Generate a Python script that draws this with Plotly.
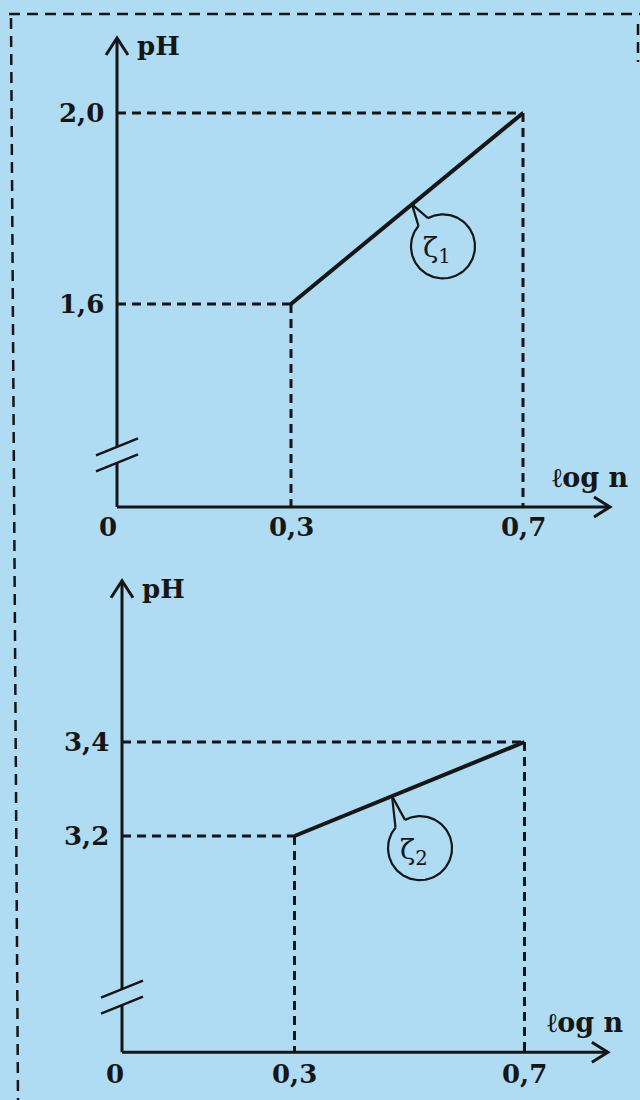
import numpy as np
import plotly.graph_objects as go

# values
logn = [0.3, 0.7]
ph_1 = [1.6, 2.0]
ph_2 = [3.2, 3.4]
x_ticks = [0, 0.3, 0.7]
x_tick_text = ["0", "0,3", "0,7"]
curve_labels = ["ζ<sub>1</sub>", "ζ<sub>2</sub>"]

W, H = 640, 1100
BG = "#afdbf3"
INK = "#161616"
BOLD = dict(family="DejaVu Serif", size=26, color=INK)

# pixel geometry of each panel (px = x0 + sx*x ; py = ref_px + (ref_v - v)*sy)
panels = [
    dict(ph=ph_1, label=curve_labels[0], xa="x", ya="y", dom=[0.5, 1.0], top_px=0,
         x0=117, sx=580, ref_v=2.0, ref_px=113, sy=477.5,
         y_lo=1.175, y_hi=2.157, brk=1.284, x_hi=0.85,
         stem_x=0.5086, bub=(31, 42), zero_shift=-9, tick_dy=-20, logn_x=0.8155, logn_dy=29),
    dict(ph=ph_2, label=curve_labels[1], xa="x2", ya="y2", dom=[0.0, 0.5], top_px=550,
         x0=122, sx=575, ref_v=3.4, ref_px=742, sy=470,
         y_lo=2.740, y_hi=3.743, brk=2.857, x_hi=0.845,
         stem_x=0.4696, bub=(28, 52), zero_shift=-7, tick_dy=-22, logn_x=0.805, logn_dy=30),
]

fig = go.Figure()
annotations = []


def line(p, xs, ys, width=3, dash=None):
    fig.add_trace(go.Scatter(x=xs, y=ys, mode="lines", xaxis=p["xa"], yaxis=p["ya"],
                             line=dict(color=INK, width=width, dash=dash),
                             hoverinfo="skip", showlegend=False))


for p in panels:
    sx, sy = p["sx"], p["sy"]
    ph = p["ph"]
    y0 = p["y_lo"]

    # dashed guides
    for xv, yv in zip(logn, ph):
        line(p, [0, xv], [yv, yv], width=3, dash="9px,6px")
        line(p, [xv, xv], [yv, y0], width=3, dash="9px,6px")

    # the curve
    line(p, logn, ph, width=4)

    # x axis + arrow
    line(p, [0, p["x_hi"]], [y0, y0], width=3)
    tip = p["x_hi"]
    line(p, [tip - 16 / sx, tip, tip - 16 / sx], [y0 + 10 / sy, y0, y0 - 10 / sy], width=3)

    # y axis with break + arrow
    gap = 8 / sy
    line(p, [0, 0], [y0, p["brk"] - gap], width=3)
    line(p, [0, 0], [p["brk"] + gap, p["y_hi"]], width=3)
    for c in (p["brk"] - gap, p["brk"] + gap):
        line(p, [-21 / sx, 21 / sx], [c - 8.5 / sy, c + 8.5 / sy], width=2.5)
    yt = p["y_hi"]
    line(p, [-11 / sx, 0, 11 / sx], [yt - 17 / sy, yt, yt - 17 / sy], width=3)

    # bubble label on the curve
    slope = (ph[1] - ph[0]) / (logn[1] - logn[0])
    stem = (p["stem_x"], ph[0] + slope * (p["stem_x"] - logn[0]))
    cx = stem[0] + p["bub"][0] / sx
    cy = stem[1] - p["bub"][1] / sy
    r = 32
    a = np.radians(np.linspace(140, 118 + 360, 120))
    line(p, cx + r * np.cos(a) / sx, cy + r * np.sin(a) / sy, width=2.2)
    for ang in (140, 118):
        t = np.radians(ang)
        line(p, [stem[0], cx + r * np.cos(t) / sx], [stem[1], cy + r * np.sin(t) / sy], width=2.2)
    annotations.append(dict(x=cx, y=cy, xref=p["xa"], yref=p["ya"], text=p["label"],
                            showarrow=False, xshift=-6, yshift=-3,
                            font=dict(family="DejaVu Serif", size=28, color=INK)))

    # text
    annotations.append(dict(x=0, y=yt, xref=p["xa"], yref=p["ya"], text="<b>pH</b>",
                            showarrow=False, xanchor="left", xshift=18, yshift=-8, font=BOLD))
    for yv in ph:
        annotations.append(dict(x=0, y=yv, xref=p["xa"], yref=p["ya"],
                                text="<b>%s</b>" % f"{yv:.1f}".replace(".", ","),
                                showarrow=False, xanchor="right", xshift=-11, font=BOLD))
    for xv, txt in zip(x_ticks, x_tick_text):
        annotations.append(dict(x=xv, y=y0, xref=p["xa"], yref=p["ya"], text="<b>%s</b>" % txt,
                                showarrow=False, yshift=p["tick_dy"],
                                xshift=p["zero_shift"] if xv == 0 else 0, font=BOLD))
    annotations.append(dict(x=p["logn_x"], y=y0, xref=p["xa"], yref=p["ya"], text="<b>ℓog n</b>",
                            showarrow=False, yshift=p["logn_dy"],
                            font=dict(family="DejaVu Serif", size=27, color=INK)))

    # axes placed so data units land on the reference's pixels
    xr = [-p["x0"] / sx, (W - p["x0"]) / sx]
    lo_px = p["top_px"] + 550
    yr = [p["ref_v"] - (lo_px - p["ref_px"]) / sy, p["ref_v"] + (p["ref_px"] - p["top_px"]) / sy]
    ax = dict(visible=False, fixedrange=True)
    key_x = "xaxis" if p["xa"] == "x" else "xaxis2"
    key_y = "yaxis" if p["ya"] == "y" else "yaxis2"
    fig.update_layout({key_x: dict(range=xr, domain=[0, 1], anchor=p["ya"], **ax),
                       key_y: dict(range=yr, domain=p["dom"], anchor=p["xa"], **ax)})

# dashed frame around the figure
frame = dict(color=INK, width=2.5, dash="11px,7px")
shapes = [
    dict(type="line", xref="paper", yref="paper", x0=9 / W, x1=1, y0=1 - 14 / H, y1=1 - 14 / H, line=frame),
    dict(type="line", xref="paper", yref="paper", x0=11 / W, x1=18 / W, y0=1 - 18 / H, y1=0, line=frame),
    dict(type="line", xref="paper", yref="paper", x0=638 / W, x1=638 / W, y0=1 - 24 / H, y1=1 - 62 / H, line=frame),
]

fig.update_layout(width=W, height=H, margin=dict(l=0, r=0, t=0, b=0),
                  paper_bgcolor=BG, plot_bgcolor=BG, showlegend=False,
                  annotations=annotations, shapes=shapes)

# drop the page's default body margin so the figure sits at the window's corner
fig.write_html("out.html", config={"displayModeBar": False},
               post_script="document.body.style.margin='0';document.body.style.overflow='hidden';")
